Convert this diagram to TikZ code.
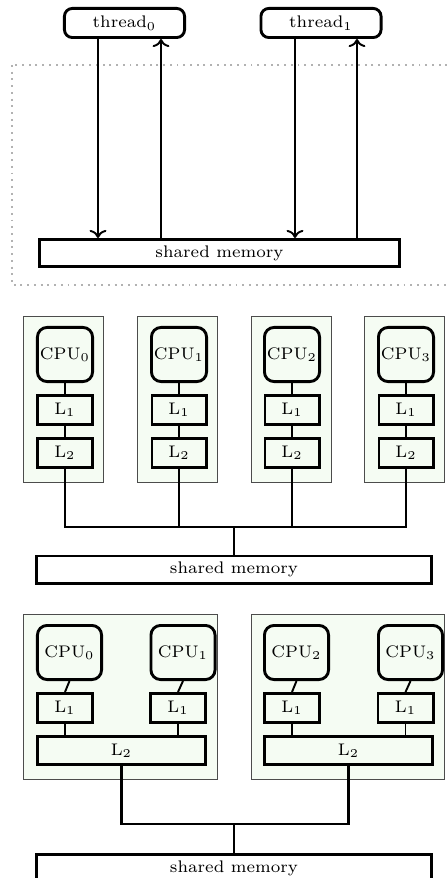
\documentclass[tikz,border=0pt]{standalone}
\usetikzlibrary{arrows.meta}
\definecolor{groupfill}{RGB}{245,252,243}
\begin{document}
\begin{tikzpicture}[x=1pt/2.4,y=-1pt/2.4,
  every node/.style={font=\scriptsize,inner sep=0pt},
  thrbox/.style={draw,very thick,rounded corners=3.3pt,minimum width={123pt/2.4-1.2pt},minimum height={32pt/2.4-1.2pt}},
  membox/.style={draw,very thick,fill=white,minimum height={30pt/2.4-1.2pt}},
  cpubox/.style={draw,very thick,rounded corners=4pt,minimum height={57pt/2.4-1.2pt}},
  cachebox/.style={draw,very thick,minimum height={32pt/2.4-1.2pt}},
  grpbox/.style={draw=black!70,thin,fill=groupfill},
  link/.style={thick},
  bus/.style={very thick},
  flow/.style={thick,->}]
\useasboundingbox (0,0) rectangle (446,878);

% ---- threads sharing one memory ----
\draw[gray!60,thick,dotted] (12,65) rectangle (470,285);
\node[thrbox] (t0) at (124.5,23) {thread$_0$};
\node[thrbox] (t1) at (321,23) {thread$_1$};
\node[membox,minimum width={363pt/2.4-1.2pt}] (m0) at (219.5,253) {shared memory};
\draw[flow] (t0.south -| 98,0) -- (m0.north -| 98,0);
\draw[flow] (m0.north -| 161,0) -- (t0.south -| 161,0);
\draw[flow] (t1.south -| 295,0) -- (m0.north -| 295,0);
\draw[flow] (m0.north -| 357,0) -- (t1.south -| 357,0);

% ---- four CPUs, private L1 and L2 ----
\foreach \i/\g/\c in {0/63/65,1/177/179,2/291/292,3/404.5/406}{
  \node[grpbox,minimum width={80pt/2.4},minimum height={166pt/2.4}] (g\i) at (\g,399) {};
  \node[cpubox,minimum width={58pt/2.4-1.2pt}] (c\i) at (\c,354.5) {CPU$_\i$};
  \node[cachebox,minimum width={57pt/2.4-1.2pt}] (a\i) at (\c,410) {L$_1$};
  \node[cachebox,minimum width={57pt/2.4-1.2pt}] (b\i) at (\c,453) {L$_2$};
  \draw[link] (c\i) -- (a\i);
  \draw[link] (a\i) -- (b\i);
}
\node[membox,minimum width={398pt/2.4-1.2pt}] (m1) at (234,569.5) {shared memory};
\coordinate (j1) at (234,527);
\draw[bus] (b0.south) |- (j1) -| (b3.south);
\draw[bus] (b1.south) |- (j1);
\draw[bus] (b2.south) |- (j1);
\draw[bus] (j1) -- (m1.north);

% ---- two dual-core chips with shared L2 ----
\node[grpbox,minimum width={194pt/2.4},minimum height={165pt/2.4}] (h0) at (120,696.5) {};
\node[grpbox,minimum width={193pt/2.4},minimum height={165pt/2.4}] (h1) at (347.5,696.5) {};
\foreach \i/\c/\l in {0/69.5/65,1/183/178,2/296.5/292,3/410.5/405.5}{
  \node[cpubox,minimum width={67pt/2.4-1.2pt}] (d\i) at (\c,652.5) {CPU$_\i$};
  \node[cachebox,minimum width={58pt/2.4-1.2pt}] (e\i) at (\l,708) {L$_1$};
  \draw[link] (d\i.south) -- (e\i.north);
}
\node[cachebox,minimum width={171pt/2.4-1.2pt},minimum height={31pt/2.4-1.2pt}] (f0) at (121.5,750.5) {L$_2$};
\node[cachebox,minimum width={171pt/2.4-1.2pt},minimum height={31pt/2.4-1.2pt}] (f1) at (348.5,750.5) {L$_2$};
\foreach \i/\k in {0/0,1/0,2/1,3/1}{
  \draw[link] (e\i.south) -- (e\i.south |- f\k.north);
}
\node[membox,minimum width={398pt/2.4-1.2pt}] (m2) at (234,868) {shared memory};
\coordinate (j2) at (234,824);
\draw[bus] (f0.south) |- (j2) -| (f1.south);
\draw[bus] (j2) -- (m2.north);
\end{tikzpicture}
\end{document}
